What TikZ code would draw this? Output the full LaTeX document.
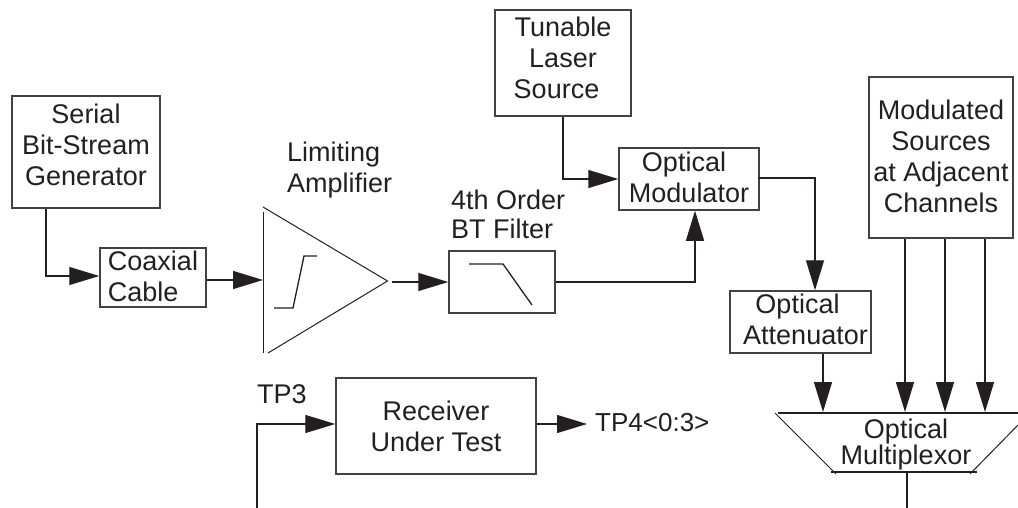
\documentclass[tikz,border=0pt]{standalone}
\usepackage{fontspec}
\setmainfont{Liberation Sans}
\usetikzlibrary{arrows.meta}
\definecolor{inkdark}{HTML}{231F20}
\tikzset{
    blockbox/.style={draw=inkdark!85, line width=1.5pt, inner sep=0pt},
    blocktext/.style={align=center, inner sep=0pt, text=inkdark},
    caption/.style={align=left, inner sep=0pt, text=inkdark, anchor=base west},
    wire/.style={draw=inkdark, line width=1.3pt},
    flow/.style={wire, -{Triangle[length=30pt,width=18pt]}}
}
\begin{document}
\begin{tikzpicture}[x=1pt, y=-1pt, font=\fontsize{27}{31}\selectfont]
    \useasboundingbox (0,0) rectangle (1018,508);

    % blocks
    \node[blockbox, minimum width=148pt, minimum height=112pt,
        label={[blocktext, yshift=7pt]center:Serial\\Bit-Stream\\Generator}] (serial) at (86,152) {};
    \node[blockbox, minimum width=106pt, minimum height=59pt,
        label={[blocktext, align=left, yshift=1.5pt]center:Coaxial\\Cable}] (coax) at (153,277.5) {};
    \node[blockbox, minimum width=106pt, minimum height=62pt] (filter) at (502,282) {};
    \node[blockbox, minimum width=136pt, minimum height=106pt,
        label={[blocktext, yshift=5pt]center:Tunable\\Laser\\Source\hspace*{13pt}}] (laser) at (563,63) {};
    \node[blockbox, minimum width=140pt, minimum height=62pt,
        label={[blocktext, yshift=2pt]center:Optical\hspace*{10pt}\\Modulator}] (modulator) at (689,179) {};
    \node[blockbox, minimum width=141pt, minimum height=62pt,
        label={[blocktext, yshift=3pt, xshift=5pt]center:Optical\hspace*{16pt}\\Attenuator}] (attenuator) at (800.5,322) {};
    \node[blockbox, minimum width=144pt, minimum height=161pt,
        label={[blocktext, yshift=1.5pt]center:Modulated\\Sources\\at Adjacent\\Channels}] (sources) at (941,157.5) {};
    \node[blockbox, minimum width=200pt, minimum height=96pt,
        label={[blocktext]center:Receiver\\Under Test}] (receiver) at (436,426) {};

    % amplifier
    \draw[wire, line width=1pt] (263,212) -- (263,353);
    \draw[wire, line width=1pt] (263,207) -- (387.5,281) -- (268,353);
    \draw[wire] (274,308) -- (293,308) -- (304,256) -- (317,256);
    \coordinate (ampin) at (263,280);
    \coordinate (ampout) at (392,282);

    % filter curve
    \draw[wire] (469,264) -- (503,264) -- (532,305);

    % multiplexor
    \draw[wire] (778,413) -- (1018,413);
    \draw[wire, line width=1pt] (775,413) -- (836,474);
    \draw[wire, line width=2pt] (831,472) -- (977,472);
    \draw[wire, line width=1pt] (970,474) -- (1018,425);
    \node[blocktext, font=\fontsize{27}{22}\selectfont] (mux) at (906,444.5) {Optical\\Multiplexor};
    \coordinate (muxa) at (823,412);
    \coordinate (muxb) at (905,412);
    \coordinate (muxc) at (945,412);
    \coordinate (muxd) at (985,412);
    \coordinate (muxout) at (907,472);
    \coordinate (muxend) at (907,508);
    \coordinate (tpfeed) at (257,508);
    \coordinate (tpfour) at (587,424);

    % labels
    \node[caption] (limiting) at (287,162) {Limiting};
    \node[caption] (amplifier) at (287,193) {Amplifier};
    \node[caption] (order) at (451,209) {4th Order};
    \node[caption] (bt) at (451,238) {BT Filter};
    \node[caption] (tpthree) at (257,403) {TP3};
    \node[caption, font=\fontsize{26}{31}\selectfont] (tpfourlabel) at (595,431) {TP4<0:3>};

    % connectors
    \draw[flow] ([xshift=-40pt]serial.south) |- ([yshift=1.5pt]coax.west);
    \draw[flow] ([yshift=-2.5pt]coax.east) -- (ampin);
    \draw[flow] (ampout) -- (filter.west);
    \draw[flow] (laser.south) |- (modulator.west);
    \draw[flow] (filter.east) -| ([xshift=6pt]modulator.south);
    \draw[flow] ([xshift=-2pt,yshift=1pt]modulator.east) -| ([xshift=14.5pt]attenuator.north);
    \draw[flow] (attenuator.south -| muxa) -- (muxa);
    \draw[flow] (sources.south -| muxb) -- (muxb);
    \draw[flow] (sources.south -| muxc) -- (muxc);
    \draw[flow] (sources.south -| muxd) -- (muxd);
    \draw[wire] (muxout) -- (muxend);
    \draw[flow] (tpfeed) |- ([yshift=2pt]receiver.west);
    \draw[flow] ([yshift=2pt]receiver.east) -- (tpfour);
\end{tikzpicture}
\end{document}
